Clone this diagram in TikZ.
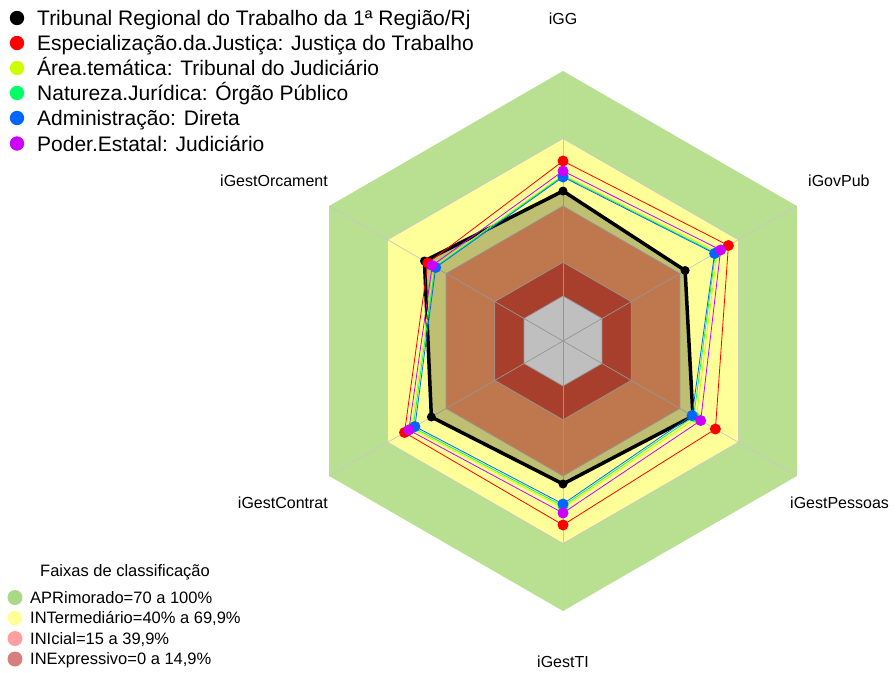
\documentclass[tikz,border=0pt]{standalone}
\usepackage{fontspec}
\setmainfont{Liberation Sans}
\definecolor{bandG}{HTML}{B8E090}
\definecolor{bandY}{HTML}{FFFF99}
\definecolor{bandP}{HTML}{FFA068}
\definecolor{bandD}{HTML}{E0553B}
\definecolor{gridc}{HTML}{C8C8C8}
\definecolor{sYG}{HTML}{CCFF00}
\definecolor{sGR}{HTML}{00FF66}
\definecolor{sBL}{HTML}{0066FF}
\definecolor{sPU}{HTML}{CC00FF}
\definecolor{lgG}{HTML}{A9D886}
\definecolor{lgY}{HTML}{FFFF99}
\definecolor{lgP}{HTML}{FF9F9F}
\definecolor{lgD}{HTML}{D67F7F}
\tikzset{
  axlbl/.style={font=\fontsize{16}{16}\selectfont, inner sep=0pt},
  toplg/.style={font=\fontsize{21}{21}\selectfont, inner sep=0pt, anchor=base west},
  botlg/.style={font=\fontsize{16.5}{16.5}\selectfont, inner sep=0pt, anchor=base west},
  gridline/.style={draw=gridc, line width=0.7pt},
}
\newcommand\hexat[1]{(-90:#1) -- (-30:#1) -- (30:#1) -- (90:#1) -- (150:#1) -- (210:#1) -- cycle}
\begin{document}
\begin{tikzpicture}[x=1pt,y=-1pt]
\useasboundingbox (0,0) rectangle (896,672);
\begin{scope}[shift={(563,341)}]
  \fill[bandG] \hexat{270};
  \fill[bandY] \hexat{202.5};
  \fill[bandP] \hexat{135};
  \fill[bandD] \hexat{78.75};
  \fill[white] \hexat{45};
  \foreach \r in {45,78.75,135,202.5} \draw[gridline] \hexat{\r};
  \foreach \t in {-90,-30,30,90,150,210} \draw[gridline] (0,0) -- (\t:270);
  % black series fill overlay
  \fill[black, opacity=0.25] (-90:150) -- (-30:141) -- (30:150) -- (90:143) -- (150:152) -- (210:160) -- cycle;
  \foreach \n/\c/\w/\d/\a/\b/\e/\f/\g/\h in {
      k/black/3.5/4.5/150/141/150/143/152/160,
      r/red/0.8/5.5/180/191/176/184/183/156,
      y/sYG/0.8/5.5/166/178/154/167/175/149,
      g/sGR/0.8/5.5/165/176/151/165/173/148,
      b/sBL/0.8/5.5/164/175/149/163/171/147,
      p/sPU/0.8/5.5/170/182/159/172/178/151}{
    \coordinate (\n1) at (-90:\a);
    \coordinate (\n2) at (-30:\b);
    \coordinate (\n3) at (30:\e);
    \coordinate (\n4) at (90:\f);
    \coordinate (\n5) at (150:\g);
    \coordinate (\n6) at (210:\h);
    \draw[\c, line width=\w pt, line join=round] (\n1) -- (\n2) -- (\n3) -- (\n4) -- (\n5) -- (\n6) -- cycle;
    \foreach \i in {1,...,6} \fill[\c] (\n\i) circle (\d);
  }
\end{scope}
% axis labels
\node[axlbl, anchor=base] (lGG) at (563,24) {iGG};
\node[axlbl, anchor=base west] (lGov) at (808,186) {iGovPub};
\node[axlbl, anchor=base west] (lPes) at (790,508) {iGestPessoas};
\node[axlbl, anchor=base] (lTI) at (563,667) {iGestTI};
\node[axlbl, anchor=base east] (lCon) at (328,508) {iGestContrat};
\node[axlbl, anchor=base east] (lOrc) at (328,186) {iGestOrcament};
% top legend
\foreach \k/\c/\y/\t in {
  1/black/18/{Tribunal Regional do Trabalho da 1ª Região/Rj},
  2/red/43/{Especialização.da.Justiça: Justiça do Trabalho},
  3/sYG/68/{Área.temática: Tribunal do Judiciário},
  4/sGR/93/{Natureza.Jurídica: Órgão Público},
  5/sBL/118/{Administração: Direta},
  6/sPU/143.5/{Poder.Estatal: Judiciário}}{
  \fill[\c] (17,\y) circle (7.2);
  \node[toplg] (tl\k) at (37,\y+7.5) {\t};
}
% bottom legend
\node[botlg] (fx) at (40,576.7) {Faixas de classificação};
\foreach \k/\c/\y/\t in {
  1/lgG/597.5/{APRimorado=70 a 100\%},
  2/lgY/618/{INTermediário=40\% a 69,9\%},
  3/lgP/638.5/{INIcial=15 a 39,9\%},
  4/lgD/659/{INExpressivo=0 a 14,9\%}}{
  \fill[\c] (15,\y) circle (7.5);
  \node[botlg] (bl\k) at (30,\y+5.5) {\t};
}
\end{tikzpicture}
\end{document}
